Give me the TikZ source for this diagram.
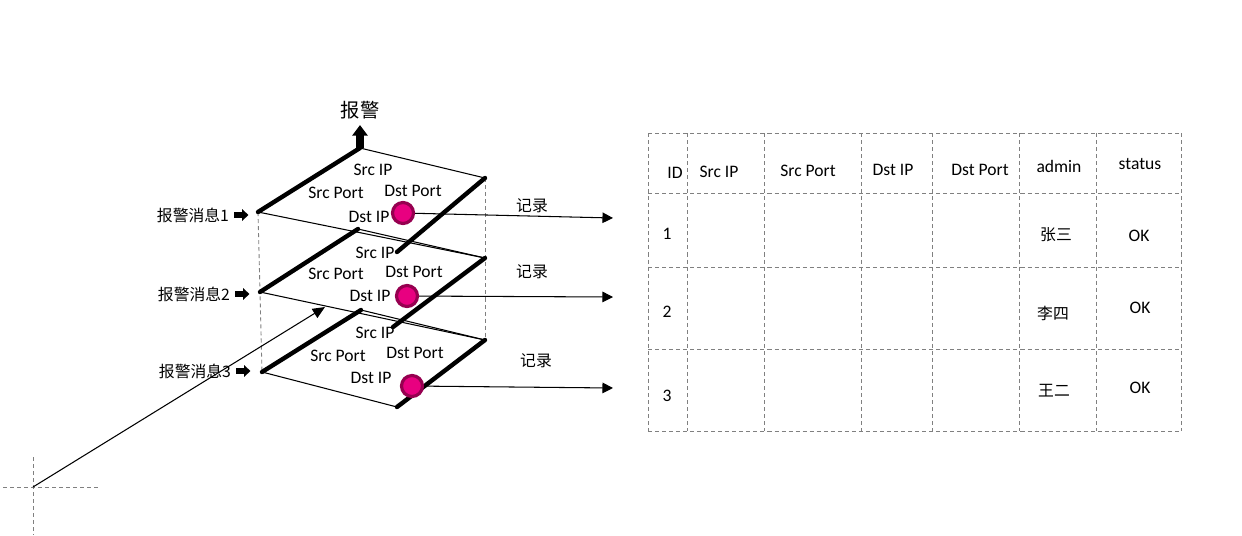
\documentclass[tikz,border=0pt]{standalone}
\usepackage{fontspec}
\setmainfont{Carlito}
\newfontfamily\cjk{Noto Sans CJK SC}
\usetikzlibrary{arrows.meta}
\definecolor{dotpink}{RGB}{232,0,128}
\definecolor{dotrim}{RGB}{150,0,80}

\begin{document}
\begin{tikzpicture}[x=0.02cm,y=-0.02cm,
  rim/.style={line width=2.5pt,line cap=round},
  fine/.style={line width=0.6pt},
  guide/.style={dash pattern=on 2.3pt off 1.7pt,gray,line width=0.5pt},
  lbl/.style={font=\fontsize{10}{12}\selectfont,inner sep=0pt},
  msg/.style={font=\cjk\fontsize{9}{11}\selectfont,inner sep=0pt},
  dot/.style={circle,fill=dotpink,draw=dotrim,line width=1.8pt,
              minimum size=0.42cm,inner sep=0pt},
  rec/.style={fine,-{Triangle[length=6pt,width=6pt]}},
  fat/.style={line width=3.8pt,-{Triangle[length=3.5pt,width=6.5pt]}}
]
\useasboundingbox (0,0) rectangle (1242,535);

% planes: left, top, right, bottom corners
\coordinate (l1) at (258,212); \coordinate (t1) at (360,148);
\coordinate (r1) at (485,178); \coordinate (b1) at (397,252);
\coordinate (l2) at (260,292); \coordinate (t2) at (358,229);
\coordinate (r2) at (485,258); \coordinate (b2) at (393,327);
\coordinate (l3) at (262,372); \coordinate (t3) at (361,310);
\coordinate (r3) at (485,340); \coordinate (b3) at (397,407);

\draw[guide] (l1) -- (l3);
\draw[guide] (r1) -- (r3);

\draw[fine] (t1) -- (r1) (l1) -- (r2);
\draw[fine] (t2) -- (r2) (l2) -- (r3);
\draw[fine] (t3) -- (r3) (l3) -- (b3);
\draw[rim] (l1) -- (t1) (r1) -- (b1);
\draw[rim] (l2) -- (t2) (r2) -- (b2);
\draw[rim] (l3) -- (t3) (r3) -- (b3);

% alarm on top
\coordinate (up) at (360,125);
\draw[line width=5pt,-{Triangle[length=6pt,width=8.5pt]}] (t1) -- (up);
\node[font=\cjk\fontsize{11}{13}\selectfont] (alarm) at (360,110) {报警};

% plane fields
\node[lbl] (sip1) at (373,170) {Src IP};
\node[lbl] (spt1) at (336,193) {Src Port};
\node[lbl] (dpt1) at (413,191) {Dst Port};
\node[lbl] (dip1) at (369,217) {Dst IP};
\node[lbl] (sip2) at (375,253) {Src IP};
\node[lbl] (spt2) at (336,274) {Src Port};
\node[lbl] (dpt2) at (414,272) {Dst Port};
\node[lbl] (dip2) at (370,296) {Dst IP};
\node[lbl] (sip3) at (375,333) {Src IP};
\node[lbl] (spt3) at (338,356) {Src Port};
\node[lbl] (dpt3) at (415,353) {Dst Port};
\node[lbl] (dip3) at (371,378) {Dst IP};

% alarm messages
\node[msg] (m1) at (193,215) {报警消息1};
\node[msg] (m2) at (194,294) {报警消息2};
\node[msg] (m3) at (195,371) {报警消息3};
\draw[fat] (m1.east) ++(5,0) -- ++(14,0);
\draw[fat] (m2.east) ++(5,0) -- ++(14,0);
\draw[fat] (m3.east) ++(5,0) -- ++(14,0);

% record arrows
\node[dot] (c1) at (403,213) {};
\node[dot] (c2) at (407,296) {};
\node[dot] (c3) at (412,386) {};
\coordinate (e1) at (613,218);
\coordinate (e2) at (613,297);
\coordinate (e3) at (613,388);
\draw[rec] (c1) -- (e1);
\draw[rec] (c2) -- (e2);
\draw[rec] (c3) -- (e3);
\node[msg] (rec1) at (532,206) {记录};
\node[msg] (rec2) at (532,272) {记录};
\node[msg] (rec3) at (536,361) {记录};

% incoming line and crosshair
\coordinate (org) at (33,487);
\coordinate (hit) at (325,307);
\draw[guide] (3,487) -- (98,487);
\draw[guide] (33,457) -- (33,535);
\draw[fine,-{Triangle[length=7pt,width=6pt]}] (org) -- (hit);

% table
\foreach \x in {648,687,764,861,932,1019,1096,1181}
  \draw[guide] (\x,133) -- (\x,431);
\foreach \y in {133,193,267,349,431}
  \draw[guide] (648,\y) -- (1181,\y);

\node[lbl] (hid)  at (675,173)  {ID};
\node[lbl] (hsip) at (719,172)  {Src IP};
\node[lbl] (hspt) at (808,171)  {Src Port};
\node[lbl] (hdip) at (893,170)  {Dst IP};
\node[lbl] (hdpt) at (980,170)  {Dst Port};
\node[lbl] (hadm) at (1059,166) {admin};
\node[lbl] (hst)  at (1140,164) {status};

\node[lbl] (id1) at (667,234)  {1};
\node[msg] (ad1) at (1056,235) {张三};
\node[lbl] (st1) at (1139,236) {OK};
\node[lbl] (id2) at (667,312)  {2};
\node[msg] (ad2) at (1053,313) {李四};
\node[lbl] (st2) at (1140,308) {OK};
\node[lbl] (id3) at (667,396)  {3};
\node[msg] (ad3) at (1054,391) {王二};
\node[lbl] (st3) at (1140,388) {OK};
\end{tikzpicture}
\end{document}
